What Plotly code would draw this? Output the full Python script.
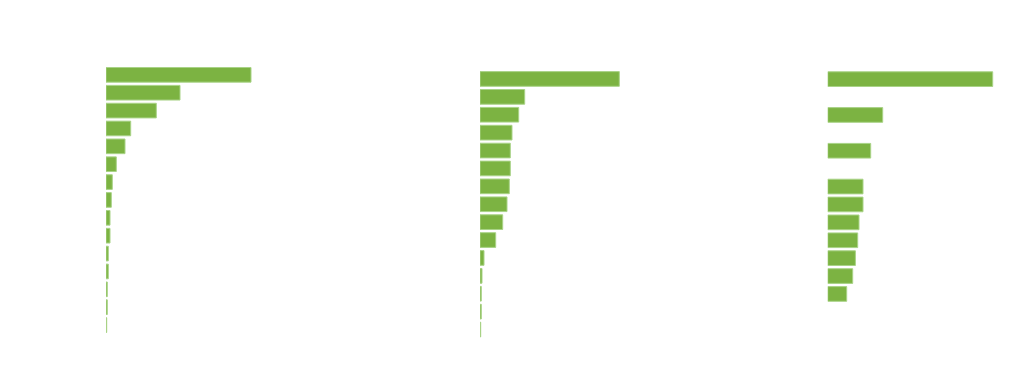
import plotly.graph_objects as go

categories = ["c01", "c02", "c03", "c04", "c05", "c06", "c07", "c08",
              "c09", "c10", "c11", "c12", "c13", "c14", "c15"]

values_left = [145, 74, 50.3, 24.7, 19, 10.3, 6.3, 5.3, 4, 4, 2.3, 2.3, 1.3, 1.3, 0.7]
values_mid = [139.3, 44.7, 38.7, 32, 30.3, 30.3, 29.3, 27, 22.7, 15.7, 4, 2, 1.3, 1.3, 0.7]
values_right = [165, None, 55, None, 43, None, 35.3, 35.3, 31.3, 30, 27.7, 25, 19, None, None]

FILL = "#7cb342"
EDGE = "#a9d387"
W, H = 1024, 377
OFF = 8  # page body margin

def dom_y(top_px, bottom_px):
    return [1 - (bottom_px - OFF) / H, 1 - (top_px - OFF) / H]

fig = go.Figure()
panels = [
    (values_left, "x", "y", 106, 160, dom_y(65.9, 334.0)),
    (values_mid, "x2", "y2", 480, 160, dom_y(70.0, 338.5)),
    (values_right, "x3", "y3", 827.7, 180, dom_y(70.2, 338.7)),
]
layout_axes = {}
for i, (vals, xa, ya, x0, span, ydom) in enumerate(panels):
    fig.add_trace(go.Bar(
        x=vals, y=categories, orientation="h", xaxis=xa, yaxis=ya,
        marker=dict(color=FILL, line=dict(color=EDGE, width=1)),
        hoverinfo="skip", showlegend=False,
    ))
    suffix = "" if i == 0 else str(i + 1)
    xs = x0 - OFF
    layout_axes["xaxis" + suffix] = dict(
        domain=[xs / W, (xs + span) / W], range=[0, span], visible=False,
        anchor="y" + suffix, fixedrange=True)
    layout_axes["yaxis" + suffix] = dict(
        domain=ydom, type="category", categoryorder="array",
        categoryarray=categories, autorange="reversed", visible=False,
        anchor="x" + suffix, fixedrange=True)

fig.update_layout(
    width=W, height=H,
    margin=dict(l=0, r=0, t=0, b=0),
    paper_bgcolor="white", plot_bgcolor="white",
    bargap=0.18,
    **layout_axes,
)
fig.write_html("out.html")
